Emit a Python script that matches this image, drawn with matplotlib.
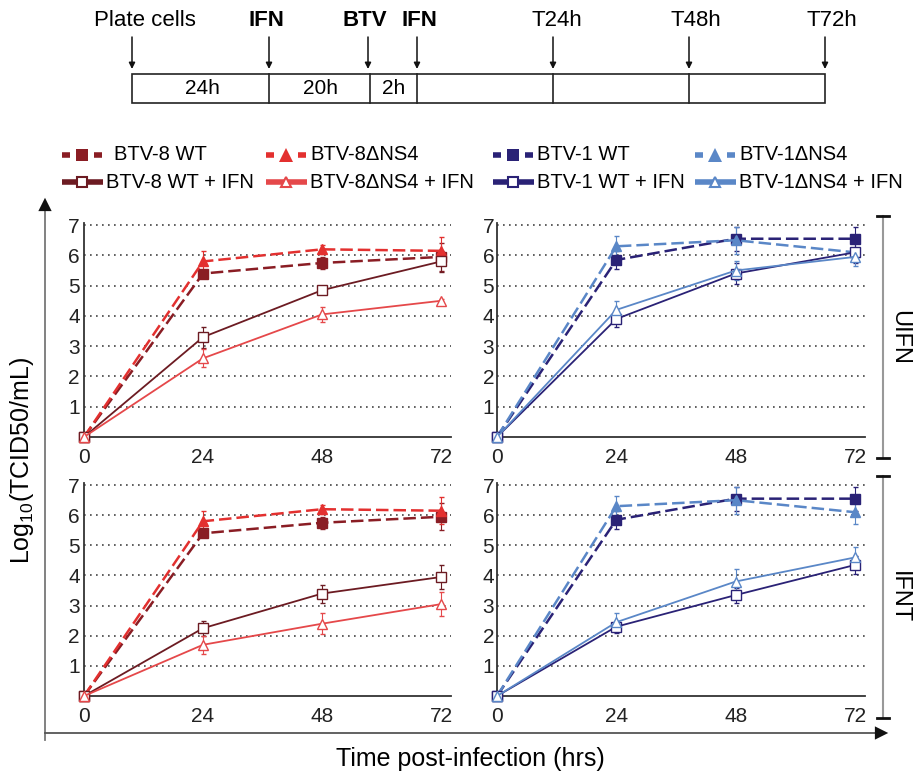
import matplotlib
matplotlib.use('Agg')
import matplotlib.pyplot as plt
from matplotlib.patches import Rectangle

plt.rcParams['font.family'] = ['Liberation Sans', 'DejaVu Sans']
plt.rcParams['mathtext.fontset'] = 'custom'
plt.rcParams['mathtext.rm'] = 'Liberation Sans'

# ---- data ----
hours = [0, 24, 48, 72]

# UIFN, BTV-8
u8_wt = [0, 5.4, 5.75, 5.95]
u8_wt_err = [0, 0.12, 0.2, 0.45]
u8_d = [0, 5.8, 6.2, 6.15]
u8_d_err = [0, 0.35, 0.15, 0.45]
u8_wt_ifn = [0, 3.3, 4.85, 5.8]
u8_wt_ifn_err = [0, 0.35, 0.08, 0.35]
u8_d_ifn = [0, 2.6, 4.05, 4.5]
u8_d_ifn_err = [0, 0.3, 0.25, 0.05]

# UIFN, BTV-1
u1_wt = [0, 5.85, 6.55, 6.55]
u1_wt_err = [0, 0.3, 0.4, 0.4]
u1_d = [0, 6.3, 6.5, 6.1]
u1_d_err = [0, 0.35, 0.45, 0.3]
u1_wt_ifn = [0, 3.9, 5.4, 6.1]
u1_wt_ifn_err = [0, 0.25, 0.35, 0.35]
u1_d_ifn = [0, 4.2, 5.5, 5.95]
u1_d_ifn_err = [0, 0.3, 0.3, 0.3]

# IFNT, BTV-8
t8_wt = [0, 5.4, 5.75, 5.95]
t8_wt_err = [0, 0.1, 0.2, 0.45]
t8_d = [0, 5.8, 6.2, 6.15]
t8_d_err = [0, 0.35, 0.15, 0.45]
t8_wt_ifn = [0, 2.25, 3.4, 3.95]
t8_wt_ifn_err = [0, 0.25, 0.3, 0.4]
t8_d_ifn = [0, 1.7, 2.4, 3.05]
t8_d_ifn_err = [0, 0.3, 0.35, 0.4]

# IFNT, BTV-1
t1_wt = [0, 5.85, 6.55, 6.55]
t1_wt_err = [0, 0.3, 0.4, 0.4]
t1_d = [0, 6.3, 6.5, 6.1]
t1_d_err = [0, 0.35, 0.45, 0.4]
t1_wt_ifn = [0, 2.3, 3.35, 4.35]
t1_wt_ifn_err = [0, 0.2, 0.25, 0.3]
t1_d_ifn = [0, 2.45, 3.8, 4.6]
t1_d_ifn_err = [0, 0.3, 0.4, 0.35]

legend_labels = [
    ['BTV-8 WT', 'BTV-8ΔNS4', 'BTV-1 WT', 'BTV-1ΔNS4'],
    ['BTV-8 WT + IFN', 'BTV-8ΔNS4 + IFN', 'BTV-1 WT + IFN', 'BTV-1ΔNS4 + IFN'],
]

timeline_labels = ['Plate cells', 'IFN', 'BTV', 'IFN', 'T24h', 'T48h', 'T72h']
timeline_bold = [False, True, True, True, False, False, False]
box_labels = ['24h', '20h', '2h']

# ---- styles ----
c8_wt = '#8a1d24'
c8_wt_ifn = '#6c1b22'
c8_d = '#e3302f'
c8_d_ifn = '#e5484a'
c1_wt = '#2a2276'
c1_d = '#5a87c7'

W, H = 914, 773
fig = plt.figure(figsize=(W / 100, H / 100), dpi=100)

# overlay in pixel coordinates for the scheme, legend, arrows
ov = fig.add_axes([0, 0, 1, 1], zorder=-1)
ov.set_xlim(0, W)
ov.set_ylim(H, 0)
ov.axis('off')


def panel_axes(x0, x1, y0, y1):
    return fig.add_axes([x0 / W, (H - y1) / H, (x1 - x0) / W, (y1 - y0) / H])


def draw_panel(ax, series, left_pad):
    for y, err, col, ls, mk, filled, lw in series:
        ax.errorbar(hours, y, yerr=err, color=col, ls=ls, lw=lw,
                    marker=mk, ms=7 if mk == 's' else 7.5,
                    mfc=col if filled else 'white', mec=col, mew=1.0,
                    elinewidth=0.8, capsize=1.8, ecolor=col, clip_on=False,
                    dashes=(5, 2) if ls == '--' else (None, None), zorder=3)
    ax.set_xlim(0, 74)
    ax.set_ylim(0, 7.07)
    ax.set_xticks(hours)
    ax.set_yticks(range(1, 8))
    ax.tick_params(axis='both', length=0, labelsize=15, colors='#222')
    ax.tick_params(axis='x', pad=8)
    ax.tick_params(axis='y', pad=left_pad)
    for y in range(1, 8):
        ax.axhline(y, color='#444', lw=1.2, dashes=(1, 2.6), zorder=1)
    for s in ['top', 'right']:
        ax.spines[s].set_visible(False)
    for s in ['left', 'bottom']:
        ax.spines[s].set_color('#333')
        ax.spines[s].set_linewidth(1.3)
    ax.set_facecolor('none')


ax_tl = panel_axes(84, 451, 223, 437)
ax_tr = panel_axes(497, 865, 223, 437)
ax_bl = panel_axes(84, 451, 483, 696)
ax_br = panel_axes(497, 865, 483, 696)

draw_panel(ax_tl, [
    (u8_wt, u8_wt_err, c8_wt, '--', 's', True, 1.8),
    (u8_d, u8_d_err, c8_d, '--', '^', True, 1.8),
    (u8_wt_ifn, u8_wt_ifn_err, c8_wt_ifn, '-', 's', False, 1.3),
    (u8_d_ifn, u8_d_ifn_err, c8_d_ifn, '-', '^', False, 1.3),
], 3)
draw_panel(ax_tr, [
    (u1_wt, u1_wt_err, c1_wt, '--', 's', True, 1.8),
    (u1_d, u1_d_err, c1_d, '--', '^', True, 1.8),
    (u1_wt_ifn, u1_wt_ifn_err, c1_wt, '-', 's', False, 1.3),
    (u1_d_ifn, u1_d_ifn_err, c1_d, '-', '^', False, 1.3),
], 2)
draw_panel(ax_bl, [
    (t8_wt, t8_wt_err, c8_wt, '--', 's', True, 1.8),
    (t8_d, t8_d_err, c8_d, '--', '^', True, 1.8),
    (t8_wt_ifn, t8_wt_ifn_err, c8_wt_ifn, '-', 's', False, 1.3),
    (t8_d_ifn, t8_d_ifn_err, c8_d_ifn, '-', '^', False, 1.3),
], 3)
draw_panel(ax_br, [
    (t1_wt, t1_wt_err, c1_wt, '--', 's', True, 1.8),
    (t1_d, t1_d_err, c1_d, '--', '^', True, 1.8),
    (t1_wt_ifn, t1_wt_ifn_err, c1_wt, '-', 's', False, 1.3),
    (t1_d_ifn, t1_d_ifn_err, c1_d, '-', '^', False, 1.3),
], 2)

# ---- timeline scheme ----
arrow_x = [132, 269, 368, 417, 553, 689, 825]
label_x = [145, 266, 365, 419, 557, 696, 832]
for xa, xl, txt, b in zip(arrow_x, label_x, timeline_labels, timeline_bold):
    ov.text(xl, 20, txt, ha='center', va='center', fontsize=16,
            fontweight='bold' if b else 'normal')
    ov.annotate('', xy=(xa, 69), xytext=(xa, 37),
                arrowprops=dict(arrowstyle='-|>', color='#111', lw=1.1,
                                mutation_scale=9, shrinkA=0, shrinkB=0))
ov.add_patch(Rectangle((132, 74), 825 - 132, 29, fill=False, ec='#222', lw=1.2))
for xd in [269, 370, 417, 553, 689]:
    ov.plot([xd, xd], [74, 103], color='#222', lw=1.2)
for xb, txt in zip([202, 320, 394], box_labels):
    ov.text(xb, 89, txt, ha='center', va='center', fontsize=15)

# ---- legend ----
handle_x = [62, 266, 493, 695]
row_y = [155, 182]
leg_style = [(c8_wt, c8_wt_ifn, 's'), (c8_d, c8_d_ifn, '^'),
             (c1_wt, c1_wt, 's'), (c1_d, c1_d, '^')]
for j, (cd, cs, mk) in enumerate(leg_style):
    hx = handle_x[j]
    y = row_y[0]
    ov.plot([hx, hx + 8], [y, y], color=cd, lw=4, solid_capstyle='butt')
    ov.plot([hx + 32, hx + 40], [y, y], color=cd, lw=4, solid_capstyle='butt')
    ov.plot(hx + 20, y, marker=mk, color=cd, ms=8.5 if mk == 's' else 9.5, mew=0)
    ov.text(hx + 44 + (8 if j == 0 else 0), y, legend_labels[0][j],
            ha='left', va='center', fontsize=14.5)
    y = row_y[1]
    ov.plot([hx, hx + 41], [y, y], color=cs, lw=4, solid_capstyle='butt')
    ov.plot(hx + 20, y, marker=mk, mfc='white', mec=cs, ms=7 if mk == 's' else 7.5, mew=1.5)
    ov.text(hx + 44, y, legend_labels[1][j], ha='left', va='center', fontsize=14.5)

# ---- big axis arrows ----
ov.plot([45, 45], [740, 205], color='#777', lw=1.3)
ov.annotate('', xy=(45, 195), xytext=(45, 210),
            arrowprops=dict(arrowstyle='-|>', color='#111', lw=0, mutation_scale=24))
ov.plot([45, 880], [733, 733], color='#555', lw=1.3)
ov.annotate('', xy=(891, 733), xytext=(876, 733),
            arrowprops=dict(arrowstyle='-|>', color='#111', lw=0, mutation_scale=24))

# ---- condition brackets ----
for y0, y1, txt in [(216, 458, 'UIFN'), (476, 718, 'IFNT')]:
    ov.plot([883, 883], [y0, y1], color='#999', lw=1.5)
    ov.plot([877, 889], [y0, y0], color='#111', lw=2)
    ov.plot([877, 889], [y1, y1], color='#111', lw=2)
    ov.text(899, (y0 + y1) / 2, txt, rotation=-90, ha='center', va='center', fontsize=17)

ov.text(22, 460, r'Log$_{10}$(TCID50/mL)', rotation=90, ha='center', va='center', fontsize=18)
ov.text(470, 759, 'Time post-infection (hrs)', ha='center', va='center', fontsize=18)

plt.savefig('out.png', dpi=100)
